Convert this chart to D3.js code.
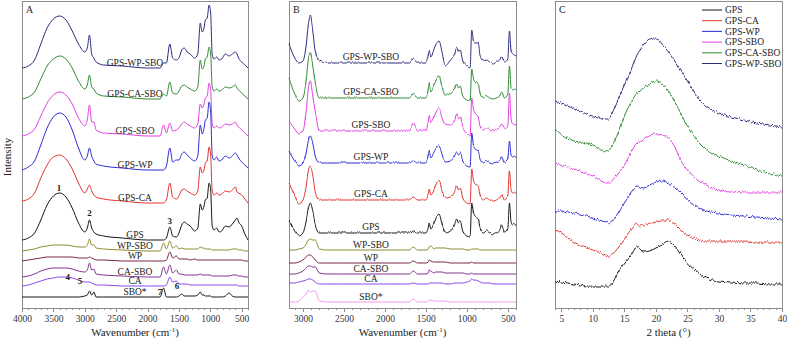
<!DOCTYPE html>
<meta charset="utf-8">
<script src="https://d3js.org/d3.v7.min.js"></script>
<style>
body { margin: 0; background: white; }
svg text { font-family: "Liberation Serif", "Times New Roman", serif; fill: #222; }
.frame { fill: none; stroke: #8c8c8c; shape-rendering: crispEdges; }
.axis path, .axis line { stroke: #8c8c8c; shape-rendering: crispEdges; }
.axis text { font-size: 9.5px; fill: #333; }
.curve { fill: none; stroke-width: 1; }
.lab { font-size: 9.5px; }
.ann { font-size: 9px; font-weight: bold; }
</style>
<body>
<svg id="svg" width="787" height="338"></svg>
<script>
// ---- data ----
var namesAB = ["GPS-WP-SBO", "GPS-CA-SBO", "GPS-SBO", "GPS-WP", "GPS-CA", "GPS", "WP-SBO", "WP", "CA-SBO", "CA", "SBO*"];
var namesC = ["GPS", "GPS-CA", "GPS-WP", "GPS-SBO", "GPS-CA-SBO", "GPS-WP-SBO"];

// panel A: FTIR, wavenumber grid and heights above each curve's baseline
var wnA = [4000,3900,3800,3700,3600,3500,3400,3300,3200,3100,3000,2960,2925,2890,2855,2820,2700,2400,2000,1800,
           1745,1700,1645,1600,1540,1500,1455,1415,1370,1320,1250,1200,1160,1130,1100,1080,1050,1020,995,970,
           940,900,860,820,760,700,650,600,575,550,500,450,400];
var aGpsWpSbo = [0,2,8,24,40,49,52,48,37,24, 16,20,33,14,10,6,3,2,0,0, 5,5,24,10,8,10,18,20,16,14, 10,14,45,36,40,48,50,63,55,13, 9,11,8,9,14,12,14,16,14,10, 6,3,0];
var aGpsCaSbo = [0,2,7,20,33,40,43,40,31,18, 10,14,24,12,10,6,3,2,0,0, 5,3,17,6,5,8,13,14,12,10, 8,12,39,30,33,40,42,52,45,12, 8,10,8,9,12,11,12,14,11,9, 6,3,0];
var aGpsSbo   = [0,2,7,20,33,41,44,41,32,18, 10,16,31,14,14,6,3,2,0,0, 11,3,13,5,6,8,12,14,12,10, 8,12,32,28,32,38,40,53,46,12, 8,10,8,9,12,11,12,14,11,9, 6,3,0];
var aGpsWp    = [0,3,9,25,42,53,57,53,40,22, 10,14,22,14,9,6,4,2,0,0, 0,4,22,8,10,10,16,18,15,12, 9,14,45,36,42,50,52,68,58,14, 10,13,9,10,14,12,14,17,15,12, 8,5,2];
var aGpsCa    = [2,4,10,25,38,46,48,44,34,20, 10,14,18,12,8,6,4,2,0,0, 0,3,20,6,4,7,13,14,12,10, 8,12,36,30,33,40,42,56,48,12, 8,10,8,9,12,11,13,16,11,10, 8,4,0];
var aGps      = [0,2,7,20,35,44,47,43,32,17, 8,12,20,12,8,6,4,2,0,0, 0,2,13,4,3,7,15,18,16,14, 9,12,36,30,34,40,42,57,50,14, 10,12,8,9,14,13,16,20,22,18, 14,6,0];
var aWpSbo    = [0,1,2,4,5,6,6,6,5,4, 4,6,12,6,6,3,2,1,0,0, 8,2,10,3,5,2,3,2,2,2, 2,2,4,3,3,2,2,2,2,1, 1,1,1,1,1,1,2,2,2,1, 1,0,0];
var aWp       = [0,1,2,3,4,4,4,4,4,3, 3,3,4,3,2,1,1,0,0,0, 0,1,9,3,5,2,2,2,2,1, 2,1,1,1,1,1,1,1,1,1, 1,1,1,1,1,1,1,1,1,1, 1,0,0];
var aCaSbo    = [0,1,3,6,8,9,9,9,8,6, 5,7,14,7,8,3,2,1,0,0, 10,3,12,4,7,3,3,2,2,2, 2,2,3,2,2,2,2,2,2,1, 1,1,1,1,1,1,2,2,2,1, 1,0,0];
var aCa       = [0,1,3,5,7,8,9,9,8,6, 4,4,4,3,2,1,1,0,0,0, 0,1,9,4,5,2,2,2,2,1, 1,1,1,1,1,1,1,1,1,1, 1,1,1,1,1,1,1,1,1,0, 0,0,0];
var aSbo      = [0,0,0,0,0,0,0,0,0,0, 1,2,6,2,5,0,0,0,0,0, 9,0,0,0,0,1,3,1,1,1, 1,2,5,2,2,1,1,1,1,0, 0,0,0,0,1,4,1,0,0,0, 0,0,0];
var offA = [240, 209, 172, 138, 105, 68, 57, 47, 31, 22, 11];
var peakNotes = [["1", 3410, 120], ["2", 2925, 95], ["3", 1645, 87], ["4", 3270, 31], ["5", 3075, 27], ["6", 1530, 22], ["7", 1800, 16]];

// panel B: Raman
var wnB = [3170,3100,3050,3000,2960,2935,2910,2880,2850,2800, 2700,2500,2300,2000,1800,1745,1700,1655,1600,1500,
           1470,1460,1440,1400,1380,1340,1300,1265,1200,1150, 1125,1100,1080,1050,1000,960,940,920,900,860,
           840,800,760,720,680,640,600,575,540,500, 480,460,440,420,400];
var bGpsWpSbo = [19,5,0,2,18,38,47,32,12,2, 0,0,0,0,0,0,0,4,0,0, 8,12,6,14,18,22,10,-3,3,8, 15,11,13,2,-3,-5,32,22,20,20, 8,2,3,1,-1,1,3,6,1,4, 32,12,9,8,7];
var bGpsCaSbo = [20,4,-3,0,18,38,45,32,15,0, 0,0,0,0,0,0,0,4,0,0, 9,15,6,13,17,22,10,3,4,9, 14,10,12,2,-2,-3,29,20,16,14, 5,0,2,0,-1,0,2,6,0,4, 32,10,8,9,8];
var bGpsSbo   = [10,2,-3,0,20,42,50,35,20,0, 0,0,0,0,0,0,0,7,0,0, 10,15,8,14,18,23,12,7,6,10, 17,12,14,4,-3,-5,33,22,18,14, 5,1,3,1,0,1,3,6,2,5, 38,12,7,6,5];
var bGpsWp    = [12,2,-3,0,10,22,27,20,7,0, 0,0,0,0,0,0,0,2,0,0, 8,12,5,11,14,17,8,1,2,7, 11,8,10,2,-3,-4,30,18,14,12, 4,0,2,0,-1,0,2,6,0,4, 22,8,6,7,5];
var bGpsCa    = [17,4,-4,0,14,28,33,25,8,0, 0,0,0,0,0,0,0,3,0,0, 7,11,5,10,15,19,8,2,3,8, 14,10,12,2,-3,-4,31,20,16,14, 5,0,2,0,-1,0,2,5,0,4, 29,10,7,8,6];
var bGps      = [12,2,-3,0,12,24,30,22,8,0, 0,0,0,0,0,0,0,1,0,0, 6,10,4,10,14,19,8,0,2,8, 14,10,12,2,-3,-4,30,20,16,14, 5,0,2,0,-2,0,2,8,0,4, 30,10,8,9,7];
var bWpSbo    = [0,0,1,2,6,10,11,10,10,1, 0,0,0,0,0,0,0,3,0,0, 1,3,4,1,2,2,2,2,1,1, 1,1,1,1,0,0,1,1,1,1, 0,0,0,0,0,0,0,0,0,0, 0,0,0,0,0];
var bWp       = [0,0,1,3,6,8,8,6,3,0, 0,0,0,0,0,0,0,2,0,0, 1,3,2,1,1,1,1,1,0,0, 0,0,0,0,0,0,1,0,0,0, 0,0,0,0,0,0,0,0,0,0, 0,0,0,0,0];
var bCaSbo    = [0,0,1,3,6,8,8,7,7,1, 0,0,0,0,0,0,0,3,0,0, 1,4,3,1,2,2,2,1,1,1, 1,1,1,1,0,0,1,0,0,0, 0,0,0,0,0,0,0,0,0,0, 0,0,0,0,0];
var bCa       = [1,1,2,3,4,5,5,4,2,0, 0,0,0,0,0,0,0,1,0,0, 0,1,1,1,1,1,1,0,0,1, 1,1,1,1,2,3,5,4,4,3, 2,1,1,1,0,0,0,0,0,0, 0,0,0,0,0];
var bSbo      = [0,0,1,5,8,12,10,11,11,1, 0,0,0,0,0,0,0,3,0,0, 1,2,2,1,1,1,1,1,0,0, 0,0,0,0,0,0,0,0,0,0, 0,0,0,0,0,0,0,0,0,0, 0,0,0,0,0];
var offB = [246, 211, 178, 146, 109, 76, 58, 45, 34, 24, 6];

// panel C: XRD, 2 theta grid
var thC = [4,5,6,7,8,9,10,11,12,12.5, 13,14,15,16,17,17.5,18,19,20,21, 22,23,24,25,26,27,28,30,32,34, 36,38,40];
var cGps      = [5,4,3,2,1,0,0,0,0,0, 2,14,23,31,40,38,35,36,39,42, 45,40,32,23,17,12,8,5,4,3, 3,2,2];
var cGpsCa    = [27,23,19,14,11,9,7,4,1,0, 2,9,17,26,33,30,31,33,35,36, 36,32,26,21,18,16,15,15,15,15, 14,14,14];
var cGpsWp    = [12,12,11,10,9,7,5,3,1,0, 2,10,21,30,37,36,35,38,41,42, 40,36,31,24,19,15,12,10,8,7, 6,5,4];
var cGpsSbo   = [20,18,16,14,12,10,7,4,1,0, 2,10,18,30,40,42,44,48,49,48, 45,37,22,13,7,2,-2,-7,-8,-9, -9,-9,-9];
var cGpsCaSbo = [22,17,13,10,9,8,6,3,0,1, 5,18,35,48,58,61,63,67,70,67, 60,50,37,25,16,8,2,-5,-10,-14, -19,-22,-25];
var cGpsWpSbo = [18,16,14,11,8,5,3,2,0,0, 5,20,34,48,65,70,74,80,81,75, 68,58,48,38,28,19,13,6,2,-1, -4,-6,-8];
var offC = [23, 53, 86, 126, 158, 190];

var ticksA = [4000, 3500, 3000, 2500, 2000, 1500, 1000, 500];
var ticksB = [3000, 2500, 2000, 1500, 1000, 500];
var ticksC = [5, 10, 15, 20, 25, 30, 35, 40];

// ---- style ----
var colors = {
    "GPS": "#151515", "GPS-CA": "#e2332e", "GPS-WP": "#2c2cd2", "GPS-SBO": "#e23fe2",
    "GPS-CA-SBO": "#2f8a33", "GPS-WP-SBO": "#2c2c7c", "WP-SBO": "#8c8a30", "WP": "#7c2448",
    "CA-SBO": "#82308e", "CA": "#8c48ea", "SBO*": "#151515"
};
var colorsB = Object.assign({}, colors, {"SBO*": "#f09cf0"});

var svg = d3.select("#svg");
var yScale = d3.scaleLinear().domain([0, 307]).range([308, 1]);
var defs = svg.append("defs");

// measurement-noise look: vertical-only displacement of the stroke
function addNoise(id, freq, scale) {
    var f = defs.append("filter").attr("id", id)
        .attr("x", "-2%").attr("y", "-10%").attr("width", "104%").attr("height", "120%");
    f.append("feTurbulence").attr("type", "turbulence").attr("baseFrequency", freq)
        .attr("numOctaves", 1).attr("seed", 3).attr("result", "n");
    f.append("feColorMatrix").attr("in", "n").attr("type", "matrix")
        .attr("values", "0 0 0 0 0.5  0 1 0 0 0  0 0 1 0 0  0 0 0 0 1").attr("result", "m");
    f.append("feDisplacementMap").attr("in", "SourceGraphic").attr("in2", "m")
        .attr("scale", scale).attr("xChannelSelector", "R").attr("yChannelSelector", "G");
}
addNoise("noiseB", "0.45 0.02", 2);
addNoise("noiseC", "0.45 0.02", 4);

function minorTicks(lo, hi, step, majors) {
    var out = [];
    for (var v = lo; v <= hi; v += step) if (majors.indexOf(v) < 0) out.push(v);
    return out;
}

function drawPanel(p) {
    var x = d3.scaleLinear().domain(p.domain).range(p.range);
    var g = svg.append("g");

    g.append("g").attr("class", "axis").attr("transform", "translate(0,308)")
        .call(d3.axisBottom(x).tickValues(p.minor).tickSize(2).tickSizeOuter(0).tickFormat(""));
    g.append("g").attr("class", "axis").attr("transform", "translate(0,308)")
        .call(d3.axisBottom(x).tickValues(p.ticks).tickSize(4).tickSizeOuter(0).tickPadding(3).tickFormat(d3.format("d")));

    g.append("rect").attr("class", "frame")
        .attr("x", p.range[0] + 0.5).attr("y", yScale(307) + 0.5)
        .attr("width", p.range[1] - p.range[0]).attr("height", yScale(0) - yScale(307));

    var line = d3.line().curve(d3.curveMonotoneX)
        .x(function(d) { return x(d[0]); })
        .y(function(d) { return yScale(d[1]); });

    p.series.forEach(function(s) {
        var pts = p.grid.map(function(w, i) { return [w, s.off + s.values[i]]; });
        g.append("path").attr("class", "curve")
            .attr("stroke", s.color)
            .attr("filter", s.noisy ? "url(#" + p.filter + ")" : null)
            .attr("d", line(pts));
        if (p.labelAt) {
            g.append("text").attr("class", "lab")
                .attr("x", x(p.labelAt)).attr("y", yScale(s.off) - 2)
                .attr("text-anchor", "middle").text(s.name);
        }
    });

    g.append("text").attr("x", p.range[0] + 4).attr("y", 13).style("font-size", "10px").text(p.letter);

    var t = g.append("text").attr("x", (p.range[0] + p.range[1]) / 2).attr("y", 336)
        .attr("text-anchor", "middle").style("font-size", "11px");
    if (p.xUnit) {
        t.append("tspan").text("Wavenumber (cm");
        t.append("tspan").attr("dy", -4).style("font-size", "7px").text("-1");
        t.append("tspan").attr("dy", 4).text(")");
    } else {
        t.text(p.xTitle);
    }
    return x;
}

var seriesA = namesAB.map(function(n, i) {
    return {name: n, off: offA[i], color: colors[n],
            values: [aGpsWpSbo, aGpsCaSbo, aGpsSbo, aGpsWp, aGpsCa, aGps, aWpSbo, aWp, aCaSbo, aCa, aSbo][i]};
});
var xA = drawPanel({
    domain: [4000, 400], range: [22, 248], grid: wnA, series: seriesA,
    ticks: ticksA, minor: minorTicks(400, 4000, 100, ticksA), labelAt: 2200, letter: "A", xUnit: true
});
svg.selectAll(".ann").data(peakNotes).enter().append("text").attr("class", "ann")
    .attr("x", function(d) { return xA(d[1]); })
    .attr("y", function(d) { return yScale(d[2]); })
    .attr("dy", "0.35em").attr("text-anchor", "middle")
    .text(function(d) { return d[0]; });

var seriesB = namesAB.map(function(n, i) {
    return {name: n, off: offB[i], color: colorsB[n], noisy: i < 6,
            values: [bGpsWpSbo, bGpsCaSbo, bGpsSbo, bGpsWp, bGpsCa, bGps, bWpSbo, bWp, bCaSbo, bCa, bSbo][i]};
});
drawPanel({
    domain: [3170, 400], range: [289, 516], grid: wnB, series: seriesB, filter: "noiseB",
    ticks: ticksB, minor: minorTicks(400, 3100, 100, ticksB), labelAt: 2170, letter: "B", xUnit: true
});

var seriesC = namesC.map(function(n, i) {
    return {name: n, off: offC[i], color: colors[n], noisy: true,
            values: [cGps, cGpsCa, cGpsWp, cGpsSbo, cGpsCaSbo, cGpsWpSbo][i]};
});
drawPanel({
    domain: [4, 40], range: [555, 782], grid: thC, series: seriesC, filter: "noiseC",
    ticks: ticksC, minor: minorTicks(4, 40, 1, ticksC), letter: "C", xTitle: "2 theta (\u00b0)"
});

// legend for C
var legend = svg.append("g").selectAll("g").data(namesC).enter().append("g")
    .attr("transform", function(d, i) { return "translate(702," + (10 + i * 10.7) + ")"; });
legend.append("line").attr("x1", 0).attr("x2", 20).attr("stroke", function(d) { return colors[d]; });
legend.append("text").attr("x", 23).attr("dy", "0.35em").style("font-size", "9.5px").text(function(d) { return d; });

svg.append("text").attr("transform", "translate(11,157) rotate(-90)")
    .attr("text-anchor", "middle").style("font-size", "11px").text("Intensity");
</script>
</body>
